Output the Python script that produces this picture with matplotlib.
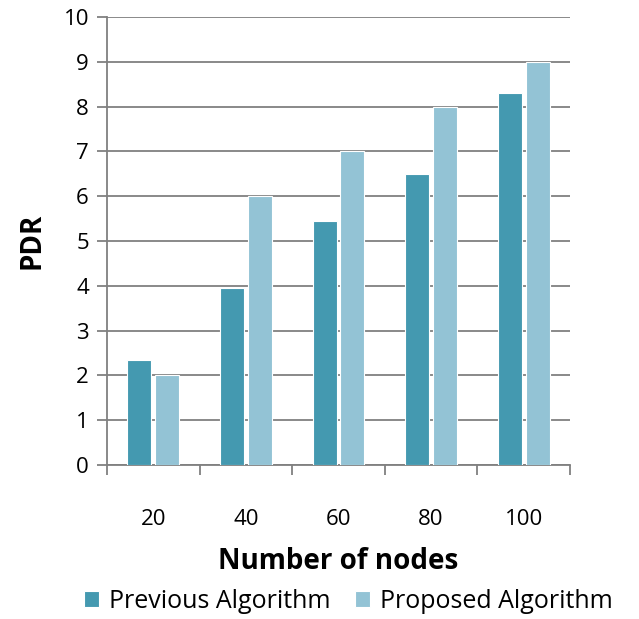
import matplotlib
matplotlib.use("Agg")
import matplotlib.pyplot as plt
import numpy as np

categories = ["20", "40", "60", "80", "100"]
previous = [2.35, 3.95, 5.45, 6.5, 8.3]
proposed = [2.0, 6.0, 7.0, 8.0, 9.0]

plt.rcParams["font.family"] = ["Open Sans", "DejaVu Sans"]

fig = plt.figure(figsize=(6.39, 6.19), dpi=100)
ax = fig.add_axes([107 / 639, 1 - 465 / 619, (570 - 107) / 639, (465 - 17) / 619])

x = np.arange(len(categories))
width = 0.26
gap = 0.04
ax.bar(x - width / 2 - gap / 2, previous, width, color="#4499B0", edgecolor="white", linewidth=0.8,
       label="Previous Algorithm", zorder=3)
ax.bar(x + width / 2 + gap / 2, proposed, width, color="#93C3D5", edgecolor="white", linewidth=0.8,
       label="Proposed Algorithm", zorder=3)

ax.set_ylim(0, 10)
ax.set_yticks(range(0, 11))
ax.set_xlim(-0.5, len(categories) - 0.5)
ax.set_xticks(x)
ax.set_xticklabels(categories)
ax.set_xticks(np.arange(-0.5, len(categories)), minor=True)
ax.tick_params(axis="x", which="major", length=0, pad=32, labelsize=16)
ax.tick_params(axis="x", which="minor", length=7, width=1.3, color="#808080")
ax.tick_params(axis="y", length=7, width=1.3, color="#808080", labelsize=16, pad=6)

ax.yaxis.grid(True, color="#808080", linewidth=1.3, zorder=0)
for side in ["top", "right"]:
    ax.spines[side].set_visible(False)
for side in ["left", "bottom"]:
    ax.spines[side].set_color("#808080")
    ax.spines[side].set_linewidth(1.3)

ax.set_xlabel("Number of nodes", fontsize=20, fontweight="bold", labelpad=12)
ax.set_ylabel("PDR", fontsize=20, fontweight="bold", labelpad=12)

fig.legend(loc="lower center", bbox_to_anchor=(0.545, -0.028), ncol=2, frameon=False, fontsize=18,
           handlelength=0.6, handleheight=0.6, handletextpad=0.4, columnspacing=1.0)

fig.savefig("out.png", dpi=100)
